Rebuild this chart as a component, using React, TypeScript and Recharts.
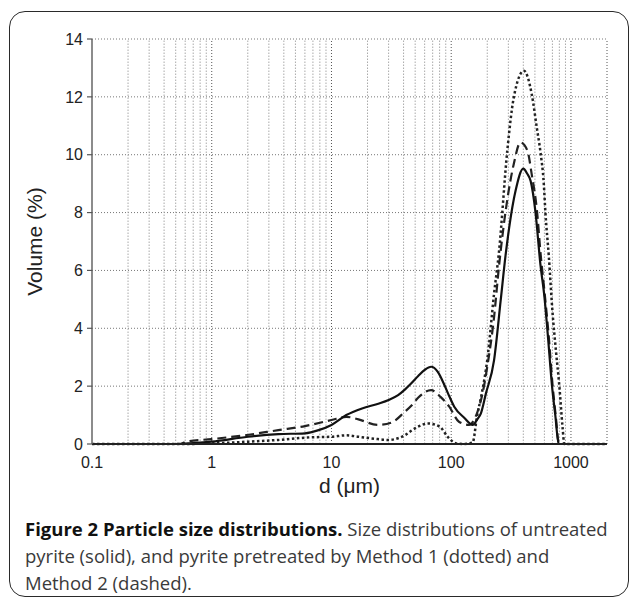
import React from 'react';
import { LineChart, Line, XAxis, YAxis, CartesianGrid, ReferenceLine } from 'recharts';

// ---- data ----
const X_TICKS = [0.1, 1, 10, 100, 1000];
const Y_TICKS = [0, 2, 4, 6, 8, 10, 12, 14];
const X_DOMAIN = [0.1, 2000];
const X_MINOR = [
  0.2, 0.3, 0.4, 0.5, 0.6, 0.7, 0.8, 0.9,
  2, 3, 4, 5, 6, 7, 8, 9,
  20, 30, 40, 50, 60, 70, 80, 90,
  200, 300, 400, 500, 600, 700, 800, 900,
];
const X_MAJOR = [1, 10, 100, 1000, 2000];

// untreated pyrite (solid)
const SOLID_D = [0.1, 0.3, 0.5, 0.7, 1, 2, 3.6, 6, 7.8, 10, 13.3, 18, 25, 30, 36, 41, 46, 53, 60, 68, 77, 86, 94, 106, 129, 151, 165, 177, 195, 228, 259, 284, 345, 400, 430, 460, 506, 556, 600, 640, 695, 740, 790, 2000];
const SOLID_V = [0, 0, 0, 0.03, 0.08, 0.25, 0.34, 0.37, 0.48, 0.66, 1.0, 1.23, 1.4, 1.52, 1.69, 1.88, 2.08, 2.35, 2.56, 2.67, 2.5, 2.12, 1.75, 1.29, 0.9, 0.66, 0.85, 1.06, 1.75, 2.9, 4.97, 6.5, 8.76, 9.52, 9.35, 9.1, 8.0, 6.2, 5.1, 3.8, 2.0, 1.0, 0, 0];

// Method 1 (dotted)
const DOTTED_D = [0.1, 0.6, 1, 2, 3.6, 6.6, 10, 13.3, 16.8, 24.4, 30, 36, 41, 46, 53, 64, 80, 93.5, 110, 129, 151, 164, 180, 200, 228, 250, 294, 333, 405, 470, 520, 556, 593, 612, 653, 700, 750, 800, 850, 880, 2000];
const DOTTED_V = [0, 0, 0.02, 0.08, 0.14, 0.23, 0.25, 0.3, 0.25, 0.17, 0.14, 0.2, 0.3, 0.45, 0.6, 0.71, 0.6, 0.25, 0.02, 0, 0.05, 0.94, 1.75, 2.9, 5.2, 6.6, 10.14, 11.98, 12.9, 12.1, 10.9, 10.1, 9.0, 8.0, 6.5, 4.6, 3.2, 2.0, 0.6, 0, 0];

// Method 2 (dashed)
const DASHED_D = [0.1, 0.55, 0.61, 1, 1.96, 3.6, 6, 10, 13.3, 16.8, 24.4, 31.6, 40.9, 46.4, 52.9, 67.9, 81.4, 96.3, 116, 141, 164, 180, 200, 228, 250, 333, 378, 433, 470, 520, 560, 600, 650, 700, 745, 795, 2000];
const DASHED_V = [0, 0, 0.08, 0.17, 0.31, 0.48, 0.62, 0.83, 0.94, 0.85, 0.66, 0.74, 1.11, 1.32, 1.6, 1.86, 1.63, 1.29, 0.77, 0.66, 1.06, 1.63, 2.67, 4.39, 6.1, 9.68, 10.42, 10.14, 9.33, 8.07, 6.5, 5.3, 3.8, 2.1, 1.0, 0, 0];

const toRows = (ds: number[], vs: number[]) => ds.map((d, i) => ({ d, v: vs[i] }));
const solidData = toRows(SOLID_D, SOLID_V);
const dottedData = toRows(DOTTED_D, DOTTED_V);
const dashedData = toRows(DASHED_D, DASHED_V);

const TICK_FONT = { fontFamily: '"Liberation Sans", Arial, sans-serif', fontSize: 16, fill: '#222' };
const CAPTION_FONT = '"Open Sans", "Noto Sans", sans-serif';

export default function App() {
  return (
    <div style={{ position: 'absolute', left: 0, top: 0, width: 629, height: 599, overflow: 'hidden', background: '#fff' }}>
      <div
        style={{
          position: 'absolute', left: 9, top: 11, width: 620, height: 586, boxSizing: 'border-box',
          border: '1.6px solid #2a2a2a', borderRadius: 16,
        }}
      />
      <div style={{ position: 'absolute', left: 0, top: 0 }}>
        <LineChart width={629} height={500} margin={{ top: 39, right: 22, bottom: 0, left: 0 }}>
          <CartesianGrid vertical={false} stroke="#777" strokeDasharray="1 2" />
          {X_MINOR.map((x) => (
            <ReferenceLine key={'mn' + x} x={x} stroke="#aaa" strokeDasharray="1.5 1.5" strokeWidth={1} />
          ))}
          {X_MAJOR.map((x) => (
            <ReferenceLine key={'mj' + x} x={x} stroke="#555" strokeDasharray="1 2" strokeWidth={1} />
          ))}
          <XAxis
            dataKey="d"
            type="number"
            scale="log"
            domain={X_DOMAIN}
            allowDataOverflow
            ticks={X_TICKS}
            tickFormatter={(v: number) => String(v)}
            tick={TICK_FONT}
            tickLine={false}
            tickSize={5}
            tickMargin={8}
            height={56}
            axisLine={{ stroke: '#222', strokeWidth: 1.8 }}
            label={{
              value: 'd (μm)', position: 'insideBottom', offset: 7,
              style: { fontFamily: '"Liberation Sans", Arial, sans-serif', fontSize: 21, fill: '#222' },
            }}
          />
          <YAxis
            type="number"
            domain={[0, 14]}
            ticks={Y_TICKS}
            width={92}
            tick={TICK_FONT}
            tickSize={5}
            tickMargin={4}
            tickLine={{ stroke: '#555', strokeWidth: 1.2 }}
            axisLine={{ stroke: '#666', strokeWidth: 1.5 }}
            label={{
              content: (props: any) => {
                const vb = props.viewBox || {};
                const cx = (vb.x || 0) + 34;
                const cy = (vb.y || 0) + (vb.height || 0) / 2;
                return (
                  <text
                    x={cx}
                    y={cy}
                    transform={`rotate(-90, ${cx}, ${cy})`}
                    textAnchor="middle"
                    dominantBaseline="central"
                    style={{ fontFamily: '"Liberation Sans", Arial, sans-serif', fontSize: 21, fill: '#222' }}
                  >
                    Volume (%)
                  </text>
                );
              },
            }}
          />
          <Line data={dottedData} dataKey="v" type="monotone" stroke="#222" strokeWidth={2.5} strokeDasharray="2.5 2.5" dot={false} isAnimationActive={false} />
          <Line data={dashedData} dataKey="v" type="monotone" stroke="#222" strokeWidth={2.2} strokeDasharray="9 5" dot={false} isAnimationActive={false} />
          <Line data={solidData} dataKey="v" type="monotone" stroke="#111" strokeWidth={2.2} dot={false} isAnimationActive={false} />
        </LineChart>
      </div>
      <div style={{ position: 'absolute', left: 25, top: 0, fontFamily: CAPTION_FONT, fontSize: 18.5, color: '#3a3a3a', whiteSpace: 'nowrap' }}>
        <div style={{ position: 'absolute', left: 0, top: 515, lineHeight: '28px' }}>
          <span style={{ fontWeight: 700, color: '#111' }}>Figure 2 Particle size distributions.</span> Size distributions of untreated
        </div>
        <div style={{ position: 'absolute', left: 0, top: 542, lineHeight: '28px' }}>
          pyrite (solid), and pyrite pretreated by Method 1 (dotted) and
        </div>
        <div style={{ position: 'absolute', left: 0, top: 569, lineHeight: '28px' }}>
          Method 2 (dashed).
        </div>
      </div>
    </div>
  );
}
